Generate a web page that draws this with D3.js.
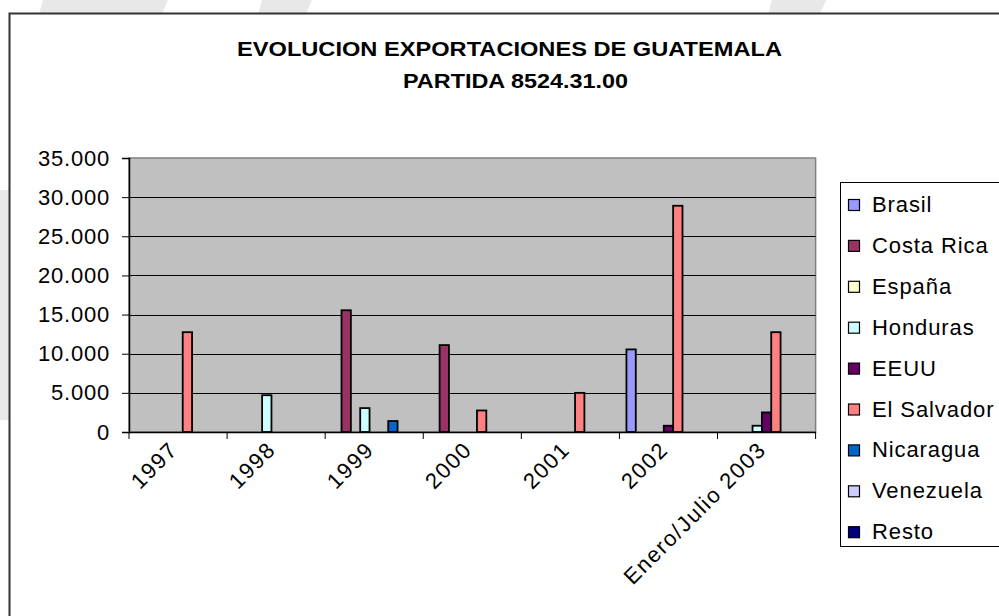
<!DOCTYPE html>
<html>
<head>
<meta charset="utf-8">
<script src="https://cdn.jsdelivr.net/npm/d3@7"></script>
<style>
  body { margin: 0; background: #fff; }
  svg { display: block; font-family: "Liberation Sans", Arial, sans-serif; }
</style>
</head>
<body>
<div id="chart"></div>
<script>
        // categories and series
        const categories = ["1997", "1998", "1999", "2000", "2001", "2002", "Enero/Julio 2003"];
        const countries = ["Brasil", "Costa Rica", "España", "Honduras", "EEUU", "El Salvador", "Nicaragua", "Venezuela", "Resto"];

        const brasil     = [0, 0, 0, 0, 0, 10550, 0];
        const costaRica  = [0, 0, 15550, 11100, 0, 0, 0];
        const espana     = [0, 0, 0, 0, 0, 0, 0];
        const honduras   = [0, 4700, 3050, 0, 0, 0, 800];
        const eeuu       = [0, 0, 0, 0, 0, 800, 2500];
        const elSalvador = [12750, 0, 0, 2750, 5000, 28900, 12750];
        const nicaragua  = [0, 0, 1400, 0, 0, 0, 0];
        const venezuela  = [0, 0, 0, 0, 0, 0, 0];
        const resto      = [0, 0, 0, 0, 0, 0, 0];

        const yTicks = [0, 5000, 10000, 15000, 20000, 25000, 30000, 35000];

        const seriesValues = [brasil, costaRica, espana, honduras, eeuu, elSalvador, nicaragua, venezuela, resto];
        const colors = ["#9999FF", "#993366", "#FFFFCC", "#CCFFFF", "#660066", "#FF8080", "#0066CC", "#CCCCFF", "#000080"];

        const width = 999;
        const height = 616;

        const svg = d3.select("#chart")
            .append("svg")
            .attr("width", width)
            .attr("height", height);

        // faint watermark shapes behind the chart
        const wm = [
            [[43, 0], [168, 0], [162, 14], [39, 14]],
            [[262, 0], [312, 0], [306, 14], [258, 14]],
            [[772, 0], [826, 0], [820, 14], [768, 14]],
            [[0, 190], [9, 190], [9, 420], [0, 420]]
        ];
        svg.selectAll("polygon.wm")
            .data(wm)
            .enter()
            .append("polygon")
            .attr("class", "wm")
            .attr("points", d => d.map(p => p.join(",")).join(" "))
            .attr("fill", "#e8e8e8");

        // chart area frame
        svg.append("rect")
            .attr("x", 9.5).attr("y", 13.5)
            .attr("width", 1010).attr("height", 640)
            .attr("fill", "#fff")
            .attr("stroke", "#333")
            .attr("stroke-width", 2);

        // title
        const title = svg.append("g")
            .style("font-weight", "bold")
            .style("font-size", "21px")
            .attr("fill", "#000");
        title.append("text")
            .attr("x", 237).attr("y", 56)
            .attr("textLength", 545)
            .attr("lengthAdjust", "spacingAndGlyphs")
            .text("EVOLUCION EXPORTACIONES DE GUATEMALA");
        title.append("text")
            .attr("x", 403).attr("y", 88)
            .attr("textLength", 225)
            .attr("lengthAdjust", "spacingAndGlyphs")
            .text("PARTIDA 8524.31.00");

        // plot area
        const plotLeft = 129, plotRight = 815.6, plotTop = 158, plotBottom = 432;

        const x0 = d3.scaleBand()
            .domain(categories)
            .range([plotLeft, plotRight])
            .paddingInner(0)
            .paddingOuter(0);

        const x1 = d3.scaleBand()
            .domain(countries)
            .range([0, x0.bandwidth()])
            .paddingInner(0)
            .paddingOuter(0.75);

        const y = d3.scaleLinear()
            .domain([0, 35000])
            .range([plotBottom, plotTop]);

        const color = d3.scaleOrdinal()
            .domain(countries)
            .range(colors);

        svg.append("rect")
            .attr("x", plotLeft).attr("y", plotTop)
            .attr("width", plotRight - plotLeft).attr("height", plotBottom - plotTop)
            .attr("fill", "#C0C0C0")
            .attr("stroke", "#808080")
            .attr("stroke-width", 1.5);

        // gridlines
        svg.append("g")
            .selectAll("line")
            .data(yTicks.filter(t => t > 0 && t < 35000))
            .enter()
            .append("line")
            .attr("x1", plotLeft).attr("x2", plotRight)
            .attr("y1", d => Math.round(y(d)) + 0.5)
            .attr("y2", d => Math.round(y(d)) + 0.5)
            .attr("stroke", "#000")
            .attr("stroke-width", 1);

        // bars
        const bars = [];
        countries.forEach((c, i) => {
            seriesValues[i].forEach((v, j) => {
                if (v > 0) bars.push({ country: c, cat: categories[j], value: v });
            });
        });

        svg.append("g")
            .selectAll("rect")
            .data(bars)
            .enter()
            .append("rect")
            .attr("x", d => x0(d.cat) + x1(d.country))
            .attr("y", d => y(d.value))
            .attr("width", x1.bandwidth())
            .attr("height", d => y(0) - y(d.value))
            .attr("fill", d => color(d.country))
            .attr("stroke", "#000")
            .attr("stroke-width", 1.8);

        // y axis
        const fmt = d3.formatLocale({ decimal: ",", thousands: ".", grouping: [3], currency: ["", ""] }).format(",");
        const yAxis = svg.append("g")
            .attr("transform", `translate(${plotLeft},0)`)
            .call(d3.axisLeft(y).tickValues(yTicks).tickSize(7).tickPadding(12).tickFormat(fmt));
        yAxis.select(".domain").attr("stroke", "#000").attr("stroke-width", 1.5);
        yAxis.selectAll(".tick line").attr("stroke", "#000");
        yAxis.selectAll("text")
            .attr("font-size", 22)
            .attr("letter-spacing", 0.8)
            .attr("fill", "#000")
            .attr("font-family", "Liberation Sans, Arial, sans-serif");

        // x axis
        const xAxis = svg.append("g")
            .attr("transform", `translate(0,${plotBottom})`)
            .call(d3.axisBottom(x0).tickSize(0).tickFormat(""));
        xAxis.select(".domain").attr("stroke", "#000").attr("stroke-width", 1.5);

        const bounds = categories.map(c => x0(c)).concat([plotRight]);
        xAxis.selectAll("line.bound")
            .data(bounds)
            .enter()
            .append("line")
            .attr("class", "bound")
            .attr("x1", d => d).attr("x2", d => d)
            .attr("y1", 0).attr("y2", 7)
            .attr("stroke", "#000");

        xAxis.selectAll("text.lab")
            .data(categories)
            .enter()
            .append("text")
            .attr("class", "lab")
            .attr("transform", d => `translate(${x0(d) + x0.bandwidth() / 2 + 1},${19}) rotate(-45)`)
            .attr("text-anchor", "end")
            .attr("font-size", 22)
            .attr("letter-spacing", 1.6)
            .attr("fill", "#000")
            .text(d => d);

        // legend
        const legend = svg.append("g");
        legend.append("rect")
            .attr("x", 840.5).attr("y", 182.5)
            .attr("width", 200).attr("height", 364)
            .attr("fill", "#fff")
            .attr("stroke", "#000")
            .attr("stroke-width", 1);

        const item = legend.selectAll("g.item")
            .data(countries)
            .enter()
            .append("g")
            .attr("class", "item")
            .attr("transform", (d, i) => `translate(848,${204 + i * 40.9})`);
        item.append("rect")
            .attr("x", 0.5).attr("y", -4.5)
            .attr("width", 11).attr("height", 11)
            .attr("fill", d => color(d))
            .attr("stroke", "#000")
            .attr("stroke-width", 1.2);
        item.append("text")
            .attr("x", 24).attr("y", 8)
            .attr("font-size", 22)
            .attr("letter-spacing", 0.9)
            .attr("fill", "#000")
            .text(d => d);
</script>
</body>
</html>
